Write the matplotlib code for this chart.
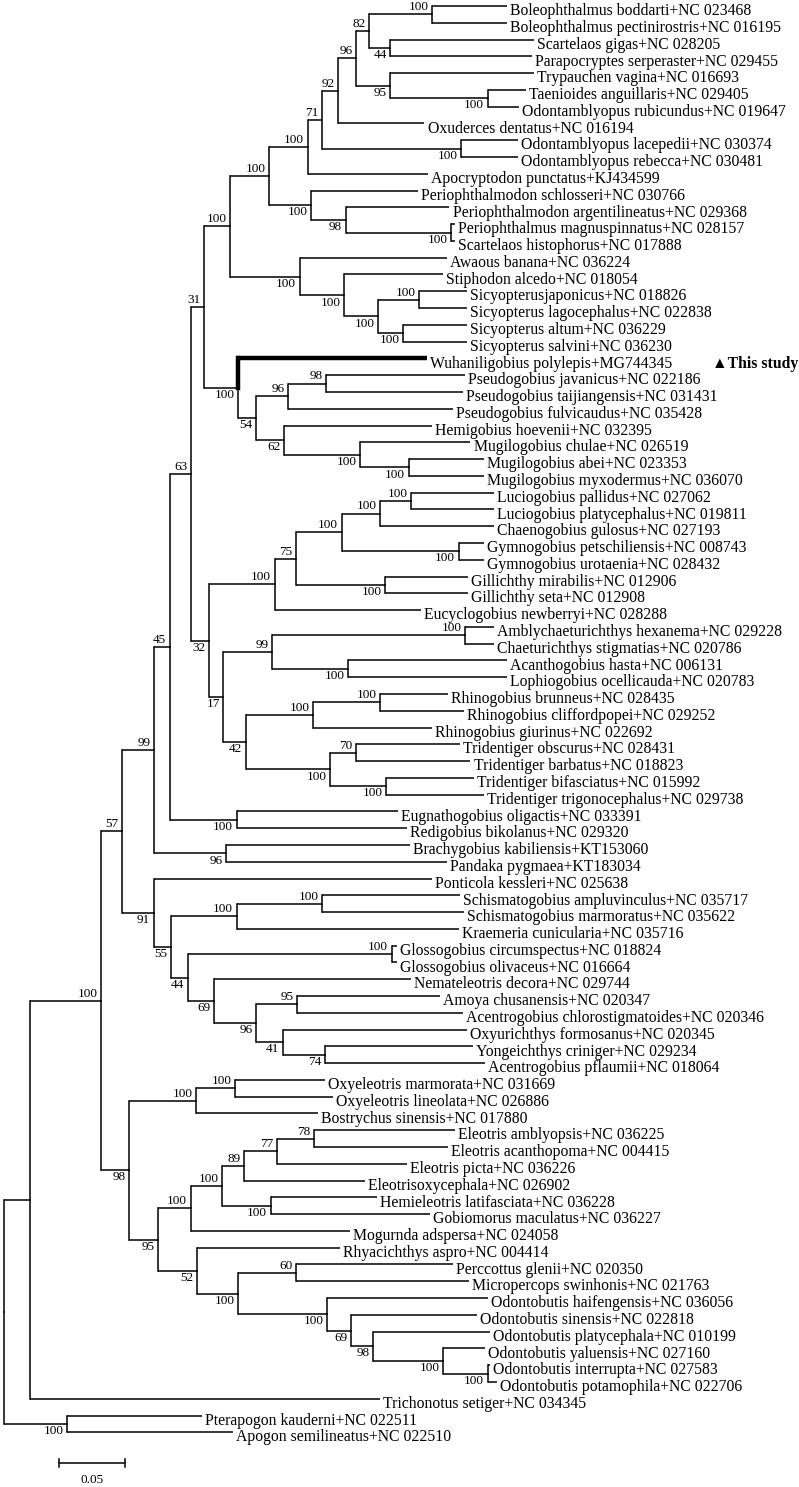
import matplotlib
matplotlib.use("Agg")
import matplotlib.pyplot as plt

plt.rcParams['font.family'] = ['Liberation Serif', 'DejaVu Serif']

# leaf names, top to bottom
taxa = [
    "Boleophthalmus boddarti+NC 023468", "Boleophthalmus pectinirostris+NC 016195",
    "Scartelaos gigas+NC 028205", "Parapocryptes serperaster+NC 029455",
    "Trypauchen vagina+NC 016693", "Taenioides anguillaris+NC 029405",
    "Odontamblyopus rubicundus+NC 019647", "Oxuderces dentatus+NC 016194",
    "Odontamblyopus lacepedii+NC 030374", "Odontamblyopus rebecca+NC 030481",
    "Apocryptodon punctatus+KJ434599", "Periophthalmodon schlosseri+NC 030766",
    "Periophthalmodon argentilineatus+NC 029368", "Periophthalmus magnuspinnatus+NC 028157",
    "Scartelaos histophorus+NC 017888", "Awaous banana+NC 036224",
    "Stiphodon alcedo+NC 018054", "Sicyopterusjaponicus+NC 018826",
    "Sicyopterus lagocephalus+NC 022838", "Sicyopterus altum+NC 036229",
    "Sicyopterus salvini+NC 036230", "Wuhaniligobius polylepis+MG744345",
    "Pseudogobius javanicus+NC 022186", "Pseudogobius taijiangensis+NC 031431",
    "Pseudogobius fulvicaudus+NC 035428", "Hemigobius hoevenii+NC 032395",
    "Mugilogobius chulae+NC 026519", "Mugilogobius abei+NC 023353",
    "Mugilogobius myxodermus+NC 036070", "Luciogobius pallidus+NC 027062",
    "Luciogobius platycephalus+NC 019811", "Chaenogobius gulosus+NC 027193",
    "Gymnogobius petschiliensis+NC 008743", "Gymnogobius urotaenia+NC 028432",
    "Gillichthy mirabilis+NC 012906", "Gillichthy seta+NC 012908",
    "Eucyclogobius newberryi+NC 028288", "Amblychaeturichthys hexanema+NC 029228",
    "Chaeturichthys stigmatias+NC 020786", "Acanthogobius hasta+NC 006131",
    "Lophiogobius ocellicauda+NC 020783", "Rhinogobius brunneus+NC 028435",
    "Rhinogobius cliffordpopei+NC 029252", "Rhinogobius giurinus+NC 022692",
    "Tridentiger obscurus+NC 028431", "Tridentiger barbatus+NC 018823",
    "Tridentiger bifasciatus+NC 015992", "Tridentiger trigonocephalus+NC 029738",
    "Eugnathogobius oligactis+NC 033391", "Redigobius bikolanus+NC 029320",
    "Brachygobius kabiliensis+KT153060", "Pandaka pygmaea+KT183034",
    "Ponticola kessleri+NC 025638", "Schismatogobius ampluvinculus+NC 035717",
    "Schismatogobius marmoratus+NC 035622", "Kraemeria cunicularia+NC 035716",
    "Glossogobius circumspectus+NC 018824", "Glossogobius olivaceus+NC 016664",
    "Nemateleotris decora+NC 029744", "Amoya chusanensis+NC 020347",
    "Acentrogobius chlorostigmatoides+NC 020346", "Oxyurichthys formosanus+NC 020345",
    "Yongeichthys criniger+NC 029234", "Acentrogobius pflaumii+NC 018064",
    "Oxyeleotris marmorata+NC 031669", "Oxyeleotris lineolata+NC 026886",
    "Bostrychus sinensis+NC 017880", "Eleotris amblyopsis+NC 036225",
    "Eleotris acanthopoma+NC 004415", "Eleotris picta+NC 036226",
    "Eleotrisoxycephala+NC 026902", "Hemieleotris latifasciata+NC 036228",
    "Gobiomorus maculatus+NC 036227", "Mogurnda adspersa+NC 024058",
    "Rhyacichthys aspro+NC 004414", "Perccottus glenii+NC 020350",
    "Micropercops swinhonis+NC 021763", "Odontobutis haifengensis+NC 036056",
    "Odontobutis sinensis+NC 022818", "Odontobutis platycephala+NC 010199",
    "Odontobutis yaluensis+NC 027160", "Odontobutis interrupta+NC 027583",
    "Odontobutis potamophila+NC 022706", "Trichonotus setiger+NC 034345",
    "Pterapogon kauderni+NC 022511", "Apogon semilineatus+NC 022510",
]

# distance of each leaf from the root (substitutions/site)
tip_depth = [
    0.383, 0.383, 0.403, 0.402, 0.403, 0.397, 0.392, 0.320, 0.391, 0.391,
    0.323, 0.315, 0.339, 0.343, 0.343, 0.337, 0.334, 0.352, 0.352, 0.352,
    0.352, 0.322, 0.351, 0.349, 0.342, 0.326, 0.355, 0.365, 0.365, 0.373,
    0.373, 0.373, 0.365, 0.365, 0.353, 0.353, 0.317, 0.373, 0.373, 0.383,
    0.383, 0.338, 0.350, 0.326, 0.347, 0.355, 0.358, 0.365, 0.300, 0.307,
    0.309, 0.337, 0.326, 0.347, 0.350, 0.346, 0.299, 0.299, 0.310, 0.332,
    0.349, 0.352, 0.357, 0.366, 0.244, 0.250, 0.239, 0.343, 0.338, 0.307,
    0.275, 0.284, 0.324, 0.263, 0.256, 0.342, 0.354, 0.368, 0.360, 0.370,
    0.366, 0.370, 0.375, 0.286, 0.151, 0.174,
]

# internal nodes: first leaf, last leaf, depth from root, bootstrap
clade_span = [
    (0, 85), (0, 83), (84, 85), (0, 82), (0, 63), (64, 82), (0, 51), (52, 63),
    (0, 49), (50, 51), (0, 47), (48, 49), (0, 28), (29, 47), (0, 20), (21, 28),
    (0, 14), (15, 20), (0, 10), (11, 14), (0, 9), (0, 7), (0, 6), (0, 3),
    (0, 1), (2, 3), (4, 6), (5, 6), (8, 9), (12, 14), (13, 14), (16, 20),
    (17, 20), (17, 18), (19, 20), (22, 28), (22, 24), (22, 23), (25, 28), (26, 28),
    (27, 28), (29, 36), (29, 35), (29, 33), (29, 31), (29, 30), (32, 33), (34, 35),
    (37, 47), (37, 40), (37, 38), (39, 40), (41, 47), (41, 43), (41, 42), (44, 47),
    (44, 45), (46, 47), (53, 63), (53, 55), (53, 54), (56, 63), (56, 57), (58, 63),
    (59, 63), (59, 60), (61, 63), (62, 63), (64, 66), (64, 65), (67, 82), (67, 73),
    (67, 72), (67, 70), (67, 69), (67, 68), (71, 72), (74, 82), (75, 82), (75, 76),
    (77, 82), (78, 82), (79, 82), (80, 82), (81, 82),
]
clade_depth = [
    0.000, 0.020, 0.048, 0.074, 0.090, 0.095, 0.114, 0.114,
    0.126, 0.169, 0.142, 0.177, 0.152, 0.156, 0.172, 0.178,
    0.202, 0.225, 0.231, 0.234, 0.242, 0.254, 0.268, 0.278,
    0.326, 0.294, 0.294, 0.368, 0.348, 0.260, 0.340, 0.259,
    0.285, 0.316, 0.304, 0.192, 0.216, 0.245, 0.213, 0.271,
    0.308, 0.206, 0.222, 0.257, 0.286, 0.310, 0.346, 0.290,
    0.167, 0.204, 0.351, 0.262, 0.184, 0.235, 0.286, 0.248,
    0.268, 0.291, 0.127, 0.177, 0.242, 0.140, 0.295, 0.160,
    0.192, 0.223, 0.212, 0.244, 0.146, 0.176, 0.117, 0.142,
    0.166, 0.183, 0.208, 0.236, 0.203, 0.147, 0.178, 0.222,
    0.246, 0.264, 0.281, 0.334, 0.368,
]
clade_support = [
    None, None, 100, 100, 57, 98, 99, 91,
    45, 96, 63, 100, 31, 32, 100, 100,
    100, 100, 100, 100, 71, 92, 96, 82,
    100, 44, 95, 100, 100, 98, 100, 100,
    100, 100, 100, 54, 96, 98, 62, 100,
    100, 100, 75, 100, 100, 100, 100, 100,
    17, 99, 100, 100, 42, 100, 100, 100,
    70, 100, 55, 100, 100, 44, 100, 69,
    96, 95, 41, 74, 100, 100, 95, 100,
    100, 89, 77, 78, 100, 52, 100, 60,
    100, 69, 98, 100, 100,
]

highlight = "Wuhaniligobius polylepis+MG744345"
scale_len = 0.05

depth_of = dict(zip(clade_span, clade_depth))
support_of = dict(zip(clade_span, clade_support))


def children(span):
    s, e = span
    kids, i = [], s
    while i <= e:
        best = None
        for (a, b) in clade_span:
            if a == i and b <= e and (a, b) != span:
                if best is None or b > best[1]:
                    best = (a, b)
        if best:
            kids.append(best)
            i = best[1] + 1
        else:
            kids.append(i)
            i += 1
    return kids


def node_xy(node):
    if isinstance(node, int):
        return tip_depth[node], float(node)
    kids = children(node)
    ys = [node_xy(k)[1] for k in kids]
    return depth_of[node], (ys[0] + ys[-1]) / 2


fig = plt.figure(figsize=(7.99, 14.87), dpi=100)
ax = fig.add_axes([0, 0, 1, 1])
px = 1 / 1314.0  # one pixel in tree units
ax.set_xlim(-4 * px, 795 * px)
ax.set_ylim(88.26, -0.358)
ax.axis('off')


def draw(node, parent_y=None):
    x, y = node_xy(node)
    if isinstance(node, tuple):
        for k in children(node):
            kx, ky = node_xy(k)
            thick = isinstance(k, int) and taxa[k] == highlight
            lw = 3.2 if thick else 1.1
            ax.plot([x, x], [y, ky], color='black', lw=lw, solid_capstyle='projecting')
            ax.plot([x, kx], [ky, ky], color='black', lw=lw, solid_capstyle='butt')
            draw(k, y)
        sup = support_of[node]
        if sup is not None and parent_y is not None:
            upper = y < parent_y
            ax.annotate(str(sup), (x, y), xytext=(-2.5, 0.8 if upper else -0.8),
                        textcoords='offset points', ha='right',
                        va='bottom' if upper else 'top', fontsize=9.5)
    else:
        ax.annotate(taxa[node], (x, y), xytext=(2.2, -6.6), textcoords='offset points',
                    ha='left', va='baseline', fontsize=11.3)
        if taxa[node] == highlight:
            ax.annotate("\u25B2This study", (0.539, y), xytext=(0, -6.6),
                        textcoords='offset points', ha='left', va='baseline',
                        fontsize=11.3, fontweight='bold')


draw((0, 85))

# scale bar
sb_x0, sb_y = 0.0421, 86.83
ax.plot([sb_x0, sb_x0 + scale_len], [sb_y, sb_y], color='black', lw=1.1)
for xx in (sb_x0, sb_x0 + scale_len):
    ax.plot([xx, xx], [sb_y - 0.25, sb_y + 0.25], color='black', lw=1.1)
ax.text(sb_x0 + scale_len / 2, sb_y + 1.0, "0.05", ha='center', va='center', fontsize=9.5)

fig.savefig("out.png", dpi=100, facecolor='white')
